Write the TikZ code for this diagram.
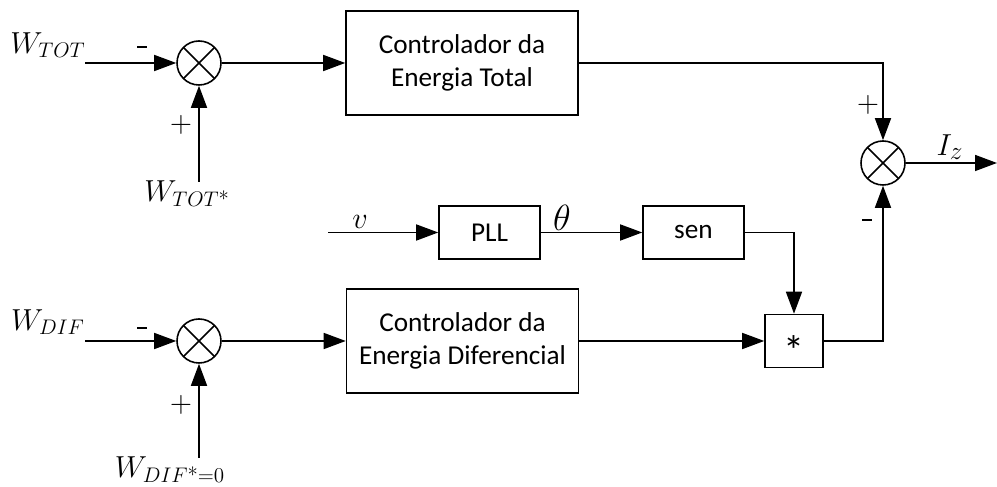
\documentclass[tikz,border=0pt]{standalone}
\usepackage{amsmath}
\usepackage[no-math]{fontspec}
\newfontfamily\boxfont{Carlito}
\usetikzlibrary{arrows.meta, positioning, calc}

\begin{document}
\begin{tikzpicture}[
        box/.style={rectangle, draw, line width=0.9pt, minimum width=4.64cm, minimum height=2.08cm, align=center, font=\boxfont\fontsize{15.5}{19}\selectfont},
        smallbox/.style={box, minimum width=2.02cm, minimum height=1.06cm},
        sumnode/.style={circle, draw, line width=0.9pt, minimum size=0.88cm, inner sep=0pt,
            path picture={\draw[line width=0.9pt] (path picture bounding box.north west) -- (path picture bounding box.south east)
                (path picture bounding box.north east) -- (path picture bounding box.south west);}},
        lbl/.style={font=\fontsize{17}{20}\selectfont, inner sep=0pt},
        sig/.style={font=\fontsize{17}{20}\selectfont, inner sep=0pt},
        flow/.style={-{Triangle[length=0.44cm, width=0.32cm]}, line width=0.9pt}
    ]
        \useasboundingbox (0,0) rectangle (19.94,9.74);
        \node[sumnode] (sumtot) at (3.98,8.48) {};
        \node[box] (ctot) at (9.24,8.48) {Controlador da\\Energia Total};
        \node[sumnode] (sumiz) at (17.66,6.48) {};
        \node[smallbox] (pll) at (9.79,5.09) {PLL};
        \node[smallbox] (sen) at (13.87,5.09) {sen};
        \node[sumnode] (sumdif) at (3.98,2.92) {};
        \node[box] (cdif) at (9.25,2.92) {Controlador da\\Energia Diferencial};
        \node[box, minimum width=1.16cm, minimum height=1.06cm] (mult) at (15.88,2.92) {};
        \node[font=\boxfont\fontsize{24}{24}\selectfont, inner sep=0pt] (star) at ([yshift=-0.2cm]mult.center) {*};

        \coordinate (wtotin) at (1.7,8.48);
        \coordinate (wtotref) at (3.98,6.1);
        \coordinate (vin) at (6.56,5.09);
        \coordinate (wdifin) at (1.7,2.92);
        \coordinate (wdifref) at (3.98,0.58);
        \coordinate (izout) at (19.94,6.48);

        \draw[flow] (wtotin) -- (sumtot);
        \draw[flow] (wtotref) -- (sumtot);
        \draw[flow] (sumtot) -- (ctot);
        \draw[flow] (ctot.east) -| (sumiz.north);
        \draw[flow] (sumiz) -- (izout);
        \draw[flow] (vin) -- (pll);
        \draw[flow] (pll) -- (sen);
        \draw[flow] (sen.east) -| (mult.north);
        \draw[flow] (wdifin) -- (sumdif);
        \draw[flow] (wdifref) -- (sumdif);
        \draw[flow] (sumdif) -- (cdif);
        \draw[flow] (cdif) -- (mult);
        \draw[flow] (mult.east) -| (sumiz.south);

        \node[lbl] (wtot) at (0.96,8.84) {$W_{TOT}$};
        \node[lbl] (wtotstar) at (3.74,5.86) {$W_{TOT\text{*}}$};
        \node[lbl] (wdif) at (0.96,3.3) {$W_{DIF}$};
        \node[lbl] (wdifstar) at (3.4,0.34) {$W_{DIF\text{*}=0}$};
        \node[lbl, font=\fontsize{19}{20}\selectfont] (vlbl) at (7.2,5.3) {$v$};
        \node[lbl, font=\fontsize{21}{22}\selectfont] (theta) at (11.24,5.38) {$\theta$};
        \node[lbl, font=\fontsize{19}{20}\selectfont] (iz) at (19.0,6.8) {$I_z$};
        \node[sig] (mtot) at (2.84,8.8) {\rule{0.2cm}{0.75pt}};
        \node[sig] (ptot) at (3.62,7.24) {$+$};
        \node[sig] (mdif) at (2.84,3.18) {\rule{0.2cm}{0.75pt}};
        \node[sig] (pdif) at (3.62,1.64) {$+$};
        \node[sig] (piz) at (17.36,7.64) {$+$};
        \node[sig] (miz) at (17.34,5.34) {\rule{0.2cm}{0.75pt}};
    \end{tikzpicture}
\end{document}
